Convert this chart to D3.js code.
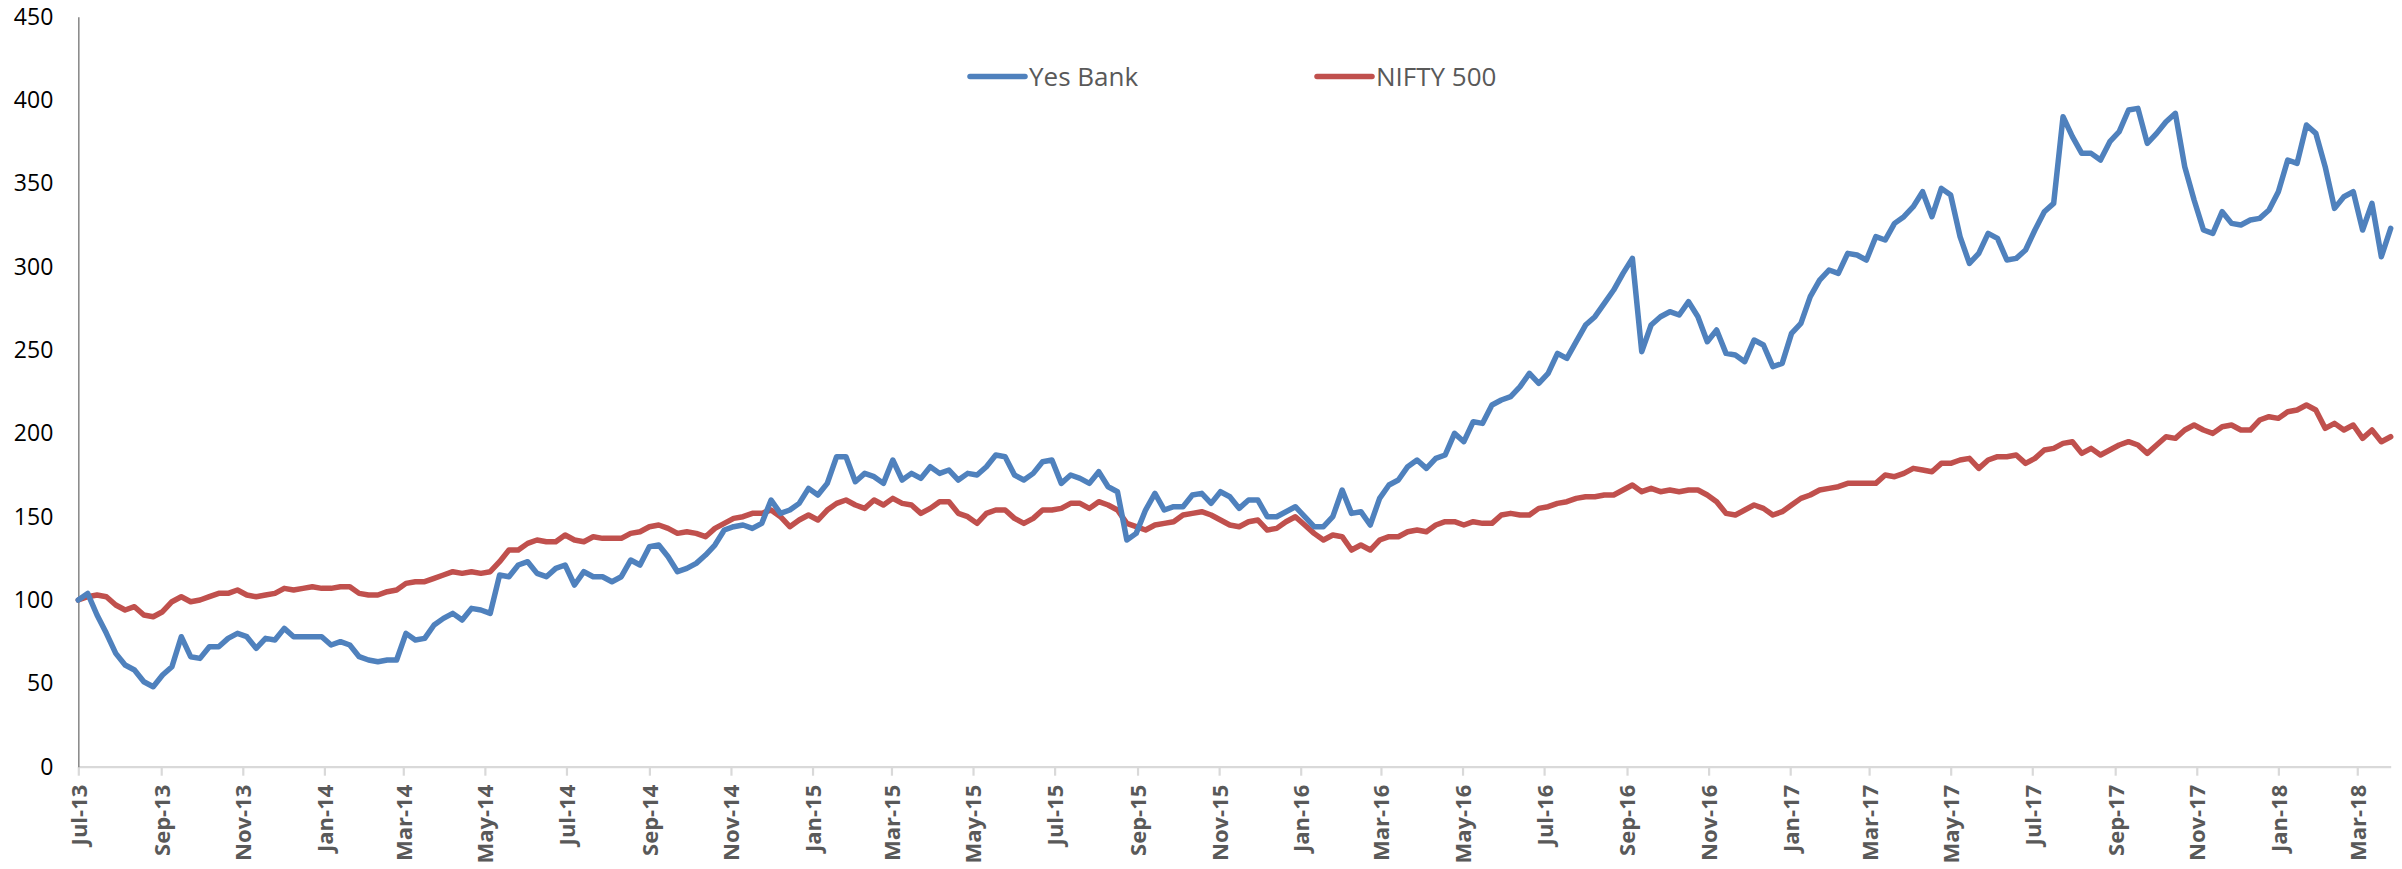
<!DOCTYPE html>
<html><head><meta charset="utf-8">
<script src="https://cdn.jsdelivr.net/npm/d3@7"></script>
<style>body{margin:0;background:#fff}</style>
</head><body><svg id="c" width="2402" height="869"></svg>
<script>
// ---- data ----
const seriesNames = ["Yes Bank", "NIFTY 500"];
const seriesColors = ["#4F81BD", "#C0504D"];
const startDate = "2013-07-01";   // first weekly observation
const endDate = "2018-03-26";     // last weekly observation
const stepDays = 7;               // weekly observations
const yesBank = [
100,104,91,80,68,61,58,51,48,55, 60,78,66,65,72,72,77,80,78,71,
77,76,83,78,78,78,78,73,75,73, 66,64,63,64,64,80,76,77,85,89,
92,88,95,94,92,115,114,121,123,116, 114,119,121,109,117,114,
114,111,114,124,
121,132,133,126,117,119,122,127,133,142, 144,145,143,146,160,152,154,158,167,163,
170,186,186,171,176,174,170,184,172,176, 173,180,176,178,172,176,175,180,187,186,
175,172,176,183,184,170,175,173,170,177, 168,165,136,140,154,164,154,156,156,163,
164,158,165,162,155,160,160,150,150,153, 156,150,144,144,150,166,152,153,145,161,
169,172,180,184,179,185,187,200,195,207, 206,217,220,222,228,236,230,236,248,245,
255,265,270,278,286,296,305,249,265,270, 273,271,279,270,255,262,248,247,243,256,
253,240,242,260,266,282,292,298,296,308,
307,304,318,316,326,330,336,345,330,347, 343,318,302,308,320,317,304,305,310,322,
333,338,390,378,368,368,364,375,381,394, 395,374,380,387,392,360,340,322,320,333,
326,325,328,329,334,345,364,362,385,380, 360,335,342,345,322,338,306,323
];
const nifty500 = [
100,102,103,102,97,94,96,91,90,93, 99,102,99,100,102,104,104,106,103,102,
103,104,107,106,107,108,107,107,108,108, 104,103,103,105,106,110,111,111,113,115,
117,116,117,116,117,123,130,130,134,136, 135,135,139,136,135,138,
137,137,137,140,
141,144,145,143,140,141,140,138,143,146, 149,150,152,152,154,150,144,148,151,148,
154,158,160,157,155,160,157,161,158,157, 152,155,159,159,152,150,146,152,154,154,
149,146,149,154,154,155,158,158,155,159, 157,154,146,144,142,145,146,147,151,152,
153,151,148,145,144,147,148,142,143,147, 150,145,140,136,139,138,130,133,130,136,
138,138,141,142,141,145,147,147,145,147, 146,146,151,152,151,151,155,156,158,159,
161,162,162,163,163,166,169,165,167,165, 166,165,166,166,163,159,152,151,154,157,
155,151,153,157,
161,163,166,167,168,170,
170,170,170,175,174,176,179,178,177,182, 182,184,185,179,184,186,186,187,182,185,
190,191,194,195,188,191,187,190,193,195, 193,188,193,198,197,202,205,202,200,204,
205,202,202,208,210,209,213,214,217,214, 203,206,202,205,197,202,195,198
];
const yTicks = [0, 50, 100, 150, 200, 250, 300, 350, 400, 450];
const xTickFirst = "2013-07-01";
const xTickLast = "2018-03-01";
const xTickMonthStep = 2;

// ---- layout ----
const W = 2402, H = 869;
const M = {left: 78.3, right: 2390.7, top: 16.7, bottom: 766.7};
const parse = d3.timeParse("%Y-%m-%d");
const t0 = parse(startDate), t1 = parse(endDate);

const dates = yesBank.map((_, i) => d3.timeDay.offset(t0, i * stepDays));
const x = d3.scaleTime().domain([t0, t1]).range([M.left, M.right]);
const y = d3.scaleLinear().domain([0, 450]).range([M.bottom, M.top]);

const svg = d3.select("#c");
svg.append("rect").attr("width", W).attr("height", H).attr("fill", "#fff");

const font = "'Open Sans', 'Noto Sans', sans-serif";

// x axis
const xTicks = d3.timeMonth.every(xTickMonthStep).range(parse(xTickFirst), d3.timeDay.offset(parse(xTickLast), 1));
const fmt = d3.timeFormat("%b-%y");
const xAxis = d3.axisBottom(x).tickValues(xTicks).tickSize(9).tickFormat(fmt).tickSizeOuter(0);
const gx = svg.append("g").attr("transform", `translate(0,${M.bottom})`).call(xAxis);
gx.select(".domain").attr("stroke", "#d9d9d9").attr("stroke-width", 2.2);
gx.selectAll(".tick line").attr("stroke", "#d9d9d9").attr("stroke-width", 2.2);
gx.selectAll(".tick text")
  .attr("font-family", font).attr("font-weight", "bold").attr("font-size", 22)
  .attr("fill", "#595959")
  .attr("text-anchor", "end")
  .attr("transform", "translate(0,18) rotate(-90)")
  .attr("x", 0).attr("y", 0).attr("dy", "0.36em");

// y axis
const yAxis = d3.axisLeft(y).tickValues(yTicks).tickSize(0).tickPadding(25).tickSizeOuter(0);
const gy = svg.append("g").attr("transform", `translate(${M.left},0)`).call(yAxis);
gy.select(".domain").attr("stroke", "#8c8c8c").attr("stroke-width", 1.6);
gy.selectAll(".tick text").attr("font-family", font).attr("font-size", 23).attr("fill", "#000");

// lines
const line = d3.line().x((d, i) => x(dates[i])).y(d => y(d)).curve(d3.curveLinear);
[nifty500, yesBank].forEach((s, j) => {
  const idx = j === 0 ? 1 : 0;
  svg.append("path").datum(s).attr("d", line)
    .attr("fill", "none").attr("stroke", seriesColors[idx])
    .attr("stroke-width", 5.5).attr("stroke-linejoin", "round").attr("stroke-linecap", "round");
});

// legend
const legendX = [970, 1317];
const legendY = 76.5;
seriesNames.forEach((n, i) => {
  const g = svg.append("g").attr("transform", `translate(${legendX[i]},${legendY})`);
  g.append("line").attr("x1", 0).attr("x2", 55).attr("y1", 0).attr("y2", 0)
    .attr("stroke", seriesColors[i]).attr("stroke-width", 5.5).attr("stroke-linecap", "round");
  g.append("text").attr("x", 59).attr("y", 0).attr("dy", "0.35em")
    .attr("font-family", font).attr("font-size", 26).attr("fill", "#595959").text(n);
});
</script>
</body></html>
